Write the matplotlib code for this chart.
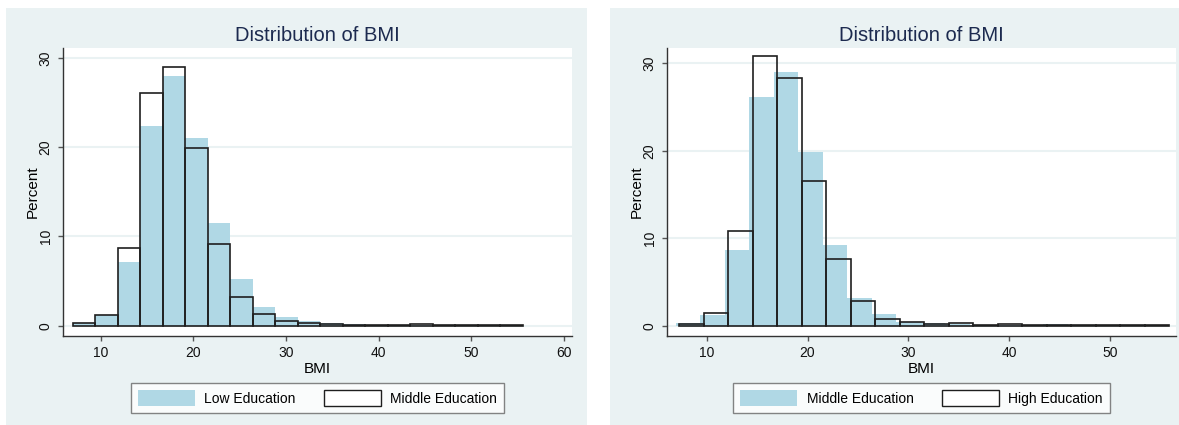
import numpy as np
import matplotlib
matplotlib.use("Agg")
import matplotlib.pyplot as plt
from matplotlib.patches import Rectangle, Patch

plt.rcParams['font.family'] = ['Liberation Sans', 'DejaVu Sans']

# histogram bins (start, width)
bin_width = 2.43
start_low_mid = 7.0
start_high = 7.28

# percent per bin
low_edu = [0.25, 1.2, 7.1, 22.4, 28.0, 21.0, 11.5, 5.2, 2.1, 1.0,
           0.55, 0.35, 0.15, 0.1, 0.1, 0.05, 0.05, 0.03, 0.1, 0.05]
mid_edu = [0.35, 1.25, 8.7, 26.1, 29.0, 19.9, 9.2, 3.2, 1.3, 0.48,
           0.28, 0.2, 0.12, 0.1, 0.05, 0.18, 0.05, 0.05, 0.03, 0.1]
high_edu = [0.15, 1.5, 10.8, 30.8, 28.3, 16.5, 7.6, 2.8, 0.78, 0.4,
            0.15, 0.27, 0.05, 0.15, 0.05, 0.05, 0.03, 0.05, 0.05, 0.05]

title = "Distribution of BMI"
yticks = [0, 10, 20, 30]

BG = "#eaf2f3"
BLUE = "#b0d8e5"
EDGE = "#1f1f1f"
W, H = 1179, 425

fig = plt.figure(figsize=(W / 100, H / 100), dpi=100)
fig.patch.set_facecolor("white")


def fx(px):
    return px / W


def fy(py):
    return 1 - py / H


def panel(x0, x1, ax_x0, ax_x1, xlim, ylim, xticks, fill, outline,
          fill_start, out_start, labels):
    fig.patches.append(Rectangle((fx(x0), fy(425)), fx(x1 - x0), (425 - 8) / H,
                                 transform=fig.transFigure, facecolor=BG,
                                 edgecolor="none", zorder=-10))
    ax = fig.add_axes([fx(ax_x0), fy(335.7), fx(ax_x1 - ax_x0), (335.7 - 48.3) / H])
    ax.set_facecolor("white")
    n = len(fill)
    ax.bar(fill_start + bin_width * np.arange(n), fill, width=bin_width,
           align="edge", color=BLUE, edgecolor="none", zorder=2)
    m = len(outline)
    ax.bar(out_start + bin_width * np.arange(m), outline, width=bin_width,
           align="edge", facecolor="none", edgecolor=EDGE, linewidth=1.2, zorder=3)
    ax.set_xlim(*xlim)
    ax.set_ylim(*ylim)
    ax.set_xticks(xticks)
    ax.set_yticks(yticks)
    ax.set_yticklabels([str(t) for t in yticks], rotation=90, va="center")
    ax.grid(axis="y", color=BG, linewidth=1.5, zorder=0)
    ax.set_axisbelow(True)
    for s in ["top", "right"]:
        ax.spines[s].set_visible(False)
    for s in ["left", "bottom"]:
        ax.spines[s].set_color("#333333")
        ax.spines[s].set_linewidth(1.0)
    ax.tick_params(direction="out", length=3.6, width=1, color="#555555",
                   labelsize=10, labelcolor="#111111")
    ax.tick_params(axis="x", pad=4)
    ax.tick_params(axis="y", pad=4)
    ax.set_title(title, fontsize=14.5, color="#1c2a4f", pad=5)
    ax.set_ylabel("Percent", fontsize=11, labelpad=-1)
    cx = (ax_x0 + ax_x1) / 2
    fig.text(fx(cx), fy(369), "BMI", ha="center", va="center", fontsize=11)
    handles = [Patch(facecolor=BLUE, edgecolor="none"),
               Patch(facecolor="white", edgecolor=EDGE, linewidth=1.0)]
    leg = fig.legend(handles, labels, loc="center", ncol=2,
                     bbox_to_anchor=(fx(cx), fy(398)), fontsize=10,
                     frameon=True, fancybox=False, handlelength=4.1,
                     handleheight=1.3, columnspacing=2.0, handletextpad=0.7,
                     borderpad=0.5)
    leg.get_frame().set_edgecolor("#666666")
    leg.get_frame().set_linewidth(1.0)
    return ax


panel(6, 587, 63.3, 571.7, (5.96, 60.86), (-1.12, 31.06), [10, 20, 30, 40, 50, 60],
      low_edu, mid_edu, start_low_mid, start_low_mid,
      ["Low Education", "Middle Education"])
panel(610, 1179, 667.3, 1176, (6.09, 56.56), (-1.14, 31.7), [10, 20, 30, 40, 50],
      mid_edu, high_edu, start_low_mid - 0.05, start_high,
      ["Middle Education", "High Education"])

fig.savefig("out.png", dpi=100)
